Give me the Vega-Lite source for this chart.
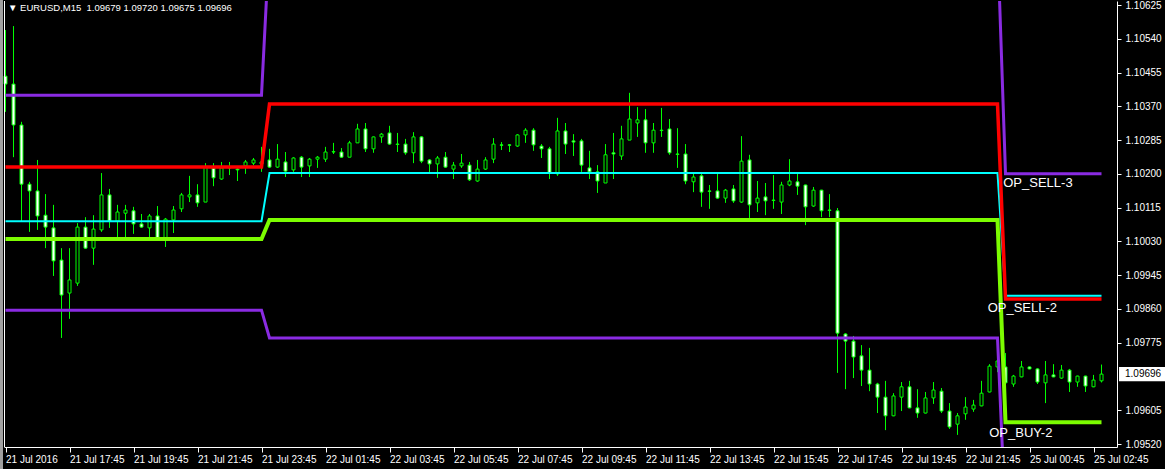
{
  "$schema": "https://vega.github.io/schema/vega-lite/v6.json",
  "width": 1113,
  "height": 446,
  "autosize": {"type": "none"},
  "padding": {"left": 4, "top": 1, "right": 48, "bottom": 22},
  "background": "#000000",
  "config": {
    "view": {"stroke": null},
    "axis": {"grid": false, "domainColor": "#ffffff", "tickColor": "#ffffff", "labelColor": "#ffffff", "labelFont": "Liberation Sans", "labelFontSize": 10, "labelOverlap": false}
  },
  "title": {"text": "▼ EURUSD,M15\u00a0 1.09679 1.09720 1.09675 1.09696", "anchor": "start", "frame": "group", "offset": -13, "dx": 4, "color": "#ffffff", "font": "Liberation Sans", "fontSize": 9.5, "fontWeight": "normal"},
  "datasets": {
    "candles": [
      {"i":0,"open":1.10446,"high":1.10562,"low":1.10356,"close":1.10426},
      {"i":1,"open":1.10426,"high":1.10572,"low":1.10242,"close":1.10323},
      {"i":2,"open":1.10323,"high":1.10331,"low":1.10079,"close":1.10174},
      {"i":3,"open":1.10174,"high":1.10180,"low":1.10054,"close":1.10157},
      {"i":4,"open":1.10157,"high":1.10235,"low":1.10059,"close":1.10094},
      {"i":5,"open":1.10096,"high":1.10149,"low":1.10013,"close":1.10066},
      {"i":6,"open":1.10064,"high":1.10122,"low":1.09943,"close":1.09981},
      {"i":7,"open":1.09983,"high":1.10013,"low":1.09787,"close":1.09895},
      {"i":8,"open":1.09900,"high":1.10013,"low":1.09835,"close":1.09933},
      {"i":9,"open":1.09925,"high":1.10076,"low":1.09918,"close":1.10066},
      {"i":10,"open":1.10066,"high":1.10091,"low":1.10011,"close":1.10013},
      {"i":11,"open":1.10013,"high":1.10096,"low":1.09971,"close":1.10061},
      {"i":12,"open":1.10059,"high":1.10202,"low":1.10054,"close":1.10147},
      {"i":13,"open":1.10147,"high":1.10162,"low":1.10064,"close":1.10081},
      {"i":14,"open":1.10081,"high":1.10122,"low":1.10039,"close":1.10104},
      {"i":15,"open":1.10101,"high":1.10122,"low":1.10039,"close":1.10109},
      {"i":16,"open":1.10107,"high":1.10117,"low":1.10049,"close":1.10074},
      {"i":17,"open":1.10074,"high":1.10099,"low":1.10064,"close":1.10066},
      {"i":18,"open":1.10064,"high":1.10099,"low":1.10039,"close":1.10094},
      {"i":19,"open":1.10094,"high":1.10119,"low":1.10037,"close":1.10039},
      {"i":20,"open":1.10039,"high":1.10089,"low":1.10016,"close":1.10086},
      {"i":21,"open":1.10084,"high":1.10119,"low":1.10051,"close":1.10109},
      {"i":22,"open":1.10112,"high":1.10152,"low":1.10104,"close":1.10147},
      {"i":23,"open":1.10142,"high":1.10195,"low":1.10129,"close":1.10147},
      {"i":24,"open":1.10147,"high":1.10174,"low":1.10117,"close":1.10127},
      {"i":25,"open":1.10129,"high":1.10227,"low":1.10129,"close":1.10217},
      {"i":26,"open":1.10215,"high":1.10227,"low":1.10169,"close":1.10190},
      {"i":27,"open":1.10187,"high":1.10230,"low":1.10185,"close":1.10215},
      {"i":28,"open":1.10217,"high":1.10230,"low":1.10197,"close":1.10215},
      {"i":29,"open":1.10212,"high":1.10215,"low":1.10182,"close":1.10210},
      {"i":30,"open":1.10220,"high":1.10235,"low":1.10200,"close":1.10230},
      {"i":31,"open":1.10227,"high":1.10240,"low":1.10222,"close":1.10235},
      {"i":32,"open":1.10225,"high":1.10268,"low":1.10205,"close":1.10230},
      {"i":33,"open":1.10235,"high":1.10263,"low":1.10215,"close":1.10217},
      {"i":34,"open":1.10217,"high":1.10275,"low":1.10215,"close":1.10237},
      {"i":35,"open":1.10230,"high":1.10255,"low":1.10192,"close":1.10207},
      {"i":36,"open":1.10210,"high":1.10242,"low":1.10205,"close":1.10240},
      {"i":37,"open":1.10242,"high":1.10245,"low":1.10192,"close":1.10217},
      {"i":38,"open":1.10220,"high":1.10240,"low":1.10192,"close":1.10237},
      {"i":39,"open":1.10237,"high":1.10245,"low":1.10215,"close":1.10242},
      {"i":40,"open":1.10237,"high":1.10268,"low":1.10230,"close":1.10255},
      {"i":41,"open":1.10255,"high":1.10278,"low":1.10250,"close":1.10256},
      {"i":42,"open":1.10255,"high":1.10265,"low":1.10240,"close":1.10242},
      {"i":43,"open":1.10242,"high":1.10283,"low":1.10242,"close":1.10278},
      {"i":44,"open":1.10278,"high":1.10326,"low":1.10278,"close":1.10313},
      {"i":45,"open":1.10313,"high":1.10328,"low":1.10255,"close":1.10263},
      {"i":46,"open":1.10263,"high":1.10294,"low":1.10253,"close":1.10293},
      {"i":47,"open":1.10293,"high":1.10303,"low":1.10278,"close":1.10300},
      {"i":48,"open":1.10303,"high":1.10321,"low":1.10273,"close":1.10275},
      {"i":49,"open":1.10275,"high":1.10303,"low":1.10255,"close":1.10274},
      {"i":50,"open":1.10275,"high":1.10288,"low":1.10248,"close":1.10253},
      {"i":51,"open":1.10253,"high":1.10305,"low":1.10227,"close":1.10293},
      {"i":52,"open":1.10293,"high":1.10295,"low":1.10227,"close":1.10232},
      {"i":53,"open":1.10235,"high":1.10237,"low":1.10202,"close":1.10225},
      {"i":54,"open":1.10225,"high":1.10245,"low":1.10190,"close":1.10240},
      {"i":55,"open":1.10242,"high":1.10255,"low":1.10215,"close":1.10217},
      {"i":56,"open":1.10212,"high":1.10230,"low":1.10187,"close":1.10222},
      {"i":57,"open":1.10220,"high":1.10250,"low":1.10215,"close":1.10227},
      {"i":58,"open":1.10222,"high":1.10230,"low":1.10182,"close":1.10185},
      {"i":59,"open":1.10182,"high":1.10235,"low":1.10180,"close":1.10212},
      {"i":60,"open":1.10212,"high":1.10242,"low":1.10210,"close":1.10235},
      {"i":61,"open":1.10237,"high":1.10290,"low":1.10227,"close":1.10275},
      {"i":62,"open":1.10273,"high":1.10280,"low":1.10260,"close":1.10272},
      {"i":63,"open":1.10273,"high":1.10275,"low":1.10255,"close":1.10272},
      {"i":64,"open":1.10270,"high":1.10300,"low":1.10268,"close":1.10298},
      {"i":65,"open":1.10298,"high":1.10315,"low":1.10278,"close":1.10310},
      {"i":66,"open":1.10310,"high":1.10315,"low":1.10258,"close":1.10273},
      {"i":67,"open":1.10270,"high":1.10275,"low":1.10240,"close":1.10263},
      {"i":68,"open":1.10263,"high":1.10268,"low":1.10187,"close":1.10202},
      {"i":69,"open":1.10200,"high":1.10341,"low":1.10195,"close":1.10308},
      {"i":70,"open":1.10308,"high":1.10328,"low":1.10250,"close":1.10275},
      {"i":71,"open":1.10283,"high":1.10300,"low":1.10245,"close":1.10280},
      {"i":72,"open":1.10283,"high":1.10288,"low":1.10205,"close":1.10222},
      {"i":73,"open":1.10215,"high":1.10258,"low":1.10187,"close":1.10205},
      {"i":74,"open":1.10205,"high":1.10222,"low":1.10152,"close":1.10182},
      {"i":75,"open":1.10177,"high":1.10275,"low":1.10177,"close":1.10248},
      {"i":76,"open":1.10253,"high":1.10303,"low":1.10187,"close":1.10250},
      {"i":77,"open":1.10245,"high":1.10321,"low":1.10235,"close":1.10288},
      {"i":78,"open":1.10285,"high":1.10404,"low":1.10285,"close":1.10338},
      {"i":79,"open":1.10328,"high":1.10368,"low":1.10293,"close":1.10336},
      {"i":80,"open":1.10336,"high":1.10363,"low":1.10253,"close":1.10278},
      {"i":81,"open":1.10278,"high":1.10328,"low":1.10253,"close":1.10310},
      {"i":82,"open":1.10310,"high":1.10366,"low":1.10293,"close":1.10309},
      {"i":83,"open":1.10313,"high":1.10338,"low":1.10248,"close":1.10253},
      {"i":84,"open":1.10250,"high":1.10315,"low":1.10215,"close":1.10249},
      {"i":85,"open":1.10250,"high":1.10275,"low":1.10174,"close":1.10182},
      {"i":86,"open":1.10180,"high":1.10202,"low":1.10154,"close":1.10192},
      {"i":87,"open":1.10195,"high":1.10202,"low":1.10117,"close":1.10154},
      {"i":88,"open":1.10157,"high":1.10172,"low":1.10112,"close":1.10156},
      {"i":89,"open":1.10157,"high":1.10202,"low":1.10137,"close":1.10139},
      {"i":90,"open":1.10139,"high":1.10162,"low":1.10127,"close":1.10159},
      {"i":91,"open":1.10162,"high":1.10172,"low":1.10127,"close":1.10132},
      {"i":92,"open":1.10129,"high":1.10295,"low":1.10127,"close":1.10232},
      {"i":93,"open":1.10235,"high":1.10248,"low":1.10089,"close":1.10122},
      {"i":94,"open":1.10127,"high":1.10182,"low":1.10104,"close":1.10139},
      {"i":95,"open":1.10142,"high":1.10177,"low":1.10096,"close":1.10132},
      {"i":96,"open":1.10134,"high":1.10197,"low":1.10112,"close":1.10133},
      {"i":97,"open":1.10129,"high":1.10180,"low":1.10099,"close":1.10172},
      {"i":98,"open":1.10172,"high":1.10237,"low":1.10169,"close":1.10182},
      {"i":99,"open":1.10180,"high":1.10202,"low":1.10147,"close":1.10169},
      {"i":100,"open":1.10172,"high":1.10173,"low":1.10071,"close":1.10117},
      {"i":101,"open":1.10119,"high":1.10167,"low":1.10117,"close":1.10159},
      {"i":102,"open":1.10159,"high":1.10160,"low":1.10091,"close":1.10107},
      {"i":103,"open":1.10109,"high":1.10149,"low":1.10091,"close":1.10108},
      {"i":104,"open":1.10107,"high":1.10114,"low":1.09699,"close":1.09799},
      {"i":105,"open":1.09797,"high":1.09799,"low":1.09658,"close":1.09779},
      {"i":106,"open":1.09779,"high":1.09792,"low":1.09686,"close":1.09739},
      {"i":107,"open":1.09742,"high":1.09769,"low":1.09666,"close":1.09706},
      {"i":108,"open":1.09706,"high":1.09762,"low":1.09653,"close":1.09671},
      {"i":109,"open":1.09671,"high":1.09674,"low":1.09598,"close":1.09638},
      {"i":110,"open":1.09638,"high":1.09679,"low":1.09555,"close":1.09591},
      {"i":111,"open":1.09591,"high":1.09648,"low":1.09590,"close":1.09641},
      {"i":112,"open":1.09638,"high":1.09676,"low":1.09603,"close":1.09664},
      {"i":113,"open":1.09664,"high":1.09679,"low":1.09610,"close":1.09611},
      {"i":114,"open":1.09611,"high":1.09658,"low":1.09586,"close":1.09598},
      {"i":115,"open":1.09598,"high":1.09651,"low":1.09597,"close":1.09636},
      {"i":116,"open":1.09636,"high":1.09676,"low":1.09621,"close":1.09656},
      {"i":117,"open":1.09653,"high":1.09661,"low":1.09598,"close":1.09603},
      {"i":118,"open":1.09603,"high":1.09623,"low":1.09558,"close":1.09563},
      {"i":119,"open":1.09570,"high":1.09598,"low":1.09543,"close":1.09591},
      {"i":120,"open":1.09596,"high":1.09638,"low":1.09581,"close":1.09613},
      {"i":121,"open":1.09608,"high":1.09631,"low":1.09601,"close":1.09618},
      {"i":122,"open":1.09616,"high":1.09679,"low":1.09615,"close":1.09648},
      {"i":123,"open":1.09651,"high":1.09721,"low":1.09650,"close":1.09716},
      {"i":124,"open":1.09714,"high":1.09737,"low":1.09701,"close":1.09729},
      {"i":125,"open":1.09714,"high":1.09749,"low":1.09669,"close":1.09674},
      {"i":126,"open":1.09671,"high":1.09694,"low":1.09664,"close":1.09691},
      {"i":127,"open":1.09689,"high":1.09729,"low":1.09688,"close":1.09714},
      {"i":128,"open":1.09714,"high":1.09715,"low":1.09708,"close":1.09709},
      {"i":129,"open":1.09709,"high":1.09711,"low":1.09671,"close":1.09676},
      {"i":130,"open":1.09674,"high":1.09729,"low":1.09623,"close":1.09694},
      {"i":131,"open":1.09694,"high":1.09721,"low":1.09688,"close":1.09689},
      {"i":132,"open":1.09686,"high":1.09719,"low":1.09684,"close":1.09706},
      {"i":133,"open":1.09706,"high":1.09709,"low":1.09651,"close":1.09676},
      {"i":134,"open":1.09676,"high":1.09692,"low":1.09664,"close":1.09691},
      {"i":135,"open":1.09691,"high":1.09692,"low":1.09651,"close":1.09666},
      {"i":136,"open":1.09664,"high":1.09694,"low":1.09663,"close":1.09681},
      {"i":137,"open":1.09679,"high":1.09720,"low":1.09675,"close":1.09696}
    ],
    "lines": [
      {"s":"PU","i":0,"v":1.10398},{"s":"PU","i":32,"v":1.10398},{"s":"PU","i":33,"v":1.10789},{"s":"PU","i":124,"v":1.10789},{"s":"PU","i":125,"v":1.10200},{"s":"PU","i":137,"v":1.10200},
      {"s":"PL","i":0,"v":1.09857},{"s":"PL","i":32,"v":1.09857},{"s":"PL","i":33,"v":1.09787},{"s":"PL","i":124,"v":1.09787},{"s":"PL","i":125,"v":1.09329},{"s":"PL","i":137,"v":1.09329},
      {"s":"C","i":0,"v":1.10081},{"s":"C","i":32,"v":1.10081},{"s":"C","i":33,"v":1.10202},{"s":"C","i":124,"v":1.10202},{"s":"C","i":125,"v":1.09893},{"s":"C","i":137,"v":1.09893},
      {"s":"R","i":0,"v":1.10217},{"s":"R","i":32,"v":1.10217},{"s":"R","i":33,"v":1.10376},{"s":"R","i":124,"v":1.10376},{"s":"R","i":125,"v":1.09885},{"s":"R","i":137,"v":1.09885},
      {"s":"G","i":0,"v":1.10036},{"s":"G","i":32,"v":1.10036},{"s":"G","i":33,"v":1.10084},{"s":"G","i":124,"v":1.10084},{"s":"G","i":125,"v":1.09575},{"s":"G","i":137,"v":1.09575}
    ],
    "labels": [
      {"i":124.72,"p":1.10167,"text":"OP_SELL-3"},
      {"i":122.77,"p":1.09852,"text":"OP_SELL-2"},
      {"i":122.97,"p":1.09538,"text":"OP_BUY-2"}
    ]
  },
  "layer": [
    {
      "data": {"name": "candles"},
      "mark": {"type": "rule", "color": "#00ff00", "strokeWidth": 1},
      "encoding": {
        "x": {"field": "i", "type": "quantitative", "title": null,
          "scale": {"domain": [-0.1875, 138.9375], "nice": false, "zero": false, "padding": 0},
          "axis": {"orient": "bottom", "values": [0,8,16,24,32,40,48,56,64,72,80,88,96,104,112,120,128,136],
            "labelExpr": "['21 Jul 2016','21 Jul 17:45','21 Jul 19:45','21 Jul 21:45','21 Jul 23:45','22 Jul 01:45','22 Jul 03:45','22 Jul 05:45','22 Jul 07:45','22 Jul 09:45','22 Jul 11:45','22 Jul 13:45','22 Jul 15:45','22 Jul 17:45','22 Jul 19:45','22 Jul 21:45','25 Jul 00:45','25 Jul 02:45'][datum.value/8]",
            "tickCount": 30, "labelAlign": "left", "labelBaseline": "top", "labelPadding": 2, "tickSize": 5, "labelFlush": false, "labelOverlap": false, "labelBound": false}},
        "y": {"field": "low", "type": "quantitative", "title": null,
          "scale": {"domain": [1.095125, 1.106351], "nice": false, "zero": false, "padding": 0},
          "axis": {"orient": "right", "values": [1.0952,1.09605,1.09775,1.0986,1.09945,1.1003,1.10115,1.102,1.10285,1.1037,1.10455,1.1054,1.10625],
            "tickCount": 30, "format": ".5f", "tickSize": 4, "labelPadding": 4, "labelAlign": "left", "labelBaseline": "middle", "labelFlush": false, "labelOverlap": false, "labelBound": false}},
        "y2": {"field": "high"}
      }
    },
    {
      "mark": {"type": "rule", "color": "#778899", "strokeWidth": 1},
      "encoding": {
        "y": {"datum": 1.09696, "type": "quantitative"}
      }
    },
    {
      "data": {"name": "candles"},
      "mark": {"type": "bar", "size": 3, "stroke": "#00ff00", "strokeWidth": 1},
      "encoding": {
        "x": {"field": "i", "type": "quantitative", "title": null},
        "y": {"field": "open", "type": "quantitative", "title": null},
        "y2": {"field": "close"},
        "fill": {"condition": {"test": "datum.close < datum.open", "value": "#ffffff"}, "value": "#000000"}
      }
    },
    {
      "data": {"name": "lines"},
      "transform": [{"filter": "datum.s == 'PU' || datum.s == 'PL'"}],
      "mark": {"type": "line", "color": "#8a2be2", "strokeWidth": 3, "clip": true},
      "encoding": {
        "x": {"field": "i", "type": "quantitative", "title": null},
        "y": {"field": "v", "type": "quantitative", "title": null},
        "detail": {"field": "s"}
      }
    },
    {
      "data": {"name": "lines"},
      "transform": [{"filter": "datum.s == 'C'"}],
      "mark": {"type": "line", "color": "#00ffff", "strokeWidth": 2, "clip": true},
      "encoding": {
        "x": {"field": "i", "type": "quantitative", "title": null},
        "y": {"field": "v", "type": "quantitative", "title": null}
      }
    },
    {
      "data": {"name": "lines"},
      "transform": [{"filter": "datum.s == 'R'"}],
      "mark": {"type": "line", "color": "#ff0000", "strokeWidth": 3.5, "clip": true},
      "encoding": {
        "x": {"field": "i", "type": "quantitative", "title": null},
        "y": {"field": "v", "type": "quantitative", "title": null}
      }
    },
    {
      "data": {"name": "lines"},
      "transform": [{"filter": "datum.s == 'G'"}],
      "mark": {"type": "line", "color": "#7cfc00", "strokeWidth": 4, "clip": true},
      "encoding": {
        "x": {"field": "i", "type": "quantitative", "title": null},
        "y": {"field": "v", "type": "quantitative", "title": null}
      }
    },
    {
      "data": {"name": "labels"},
      "mark": {"type": "text", "color": "#ffffff", "font": "Liberation Sans", "fontSize": 13, "align": "left", "baseline": "alphabetic"},
      "encoding": {
        "x": {"field": "i", "type": "quantitative", "title": null},
        "y": {"field": "p", "type": "quantitative", "title": null},
        "text": {"field": "text"}
      }
    },
    {
      "data": {"values": [{"a": 1}]},
      "mark": {"type": "rect", "fill": "#a0a0a0", "clip": false},
      "encoding": {
        "x": {"datum": -0.6875, "type": "quantitative"},
        "x2": {"datum": -0.3125},
        "y": {"datum": 1.10640, "type": "quantitative"},
        "y2": {"datum": 1.09457}
      }
    },
    {
      "data": {"values": [{"a": 1}]},
      "mark": {"type": "rule", "color": "#ffffff", "strokeWidth": 1, "clip": false},
      "encoding": {
        "x": {"datum": -0.125, "type": "quantitative"}
      }
    },
    {
      "data": {"values": [{"a": 1}]},
      "mark": {"type": "rect", "fill": "#ffffff", "clip": false},
      "encoding": {
        "x": {"datum": 139.19, "type": "quantitative"},
        "x2": {"datum": 144.94},
        "y": {"datum": 1.09714, "type": "quantitative"},
        "y2": {"datum": 1.09678}
      }
    },
    {
      "data": {"values": [{"a": 1}]},
      "mark": {"type": "text", "color": "#000000", "font": "Liberation Sans", "fontSize": 10, "align": "left", "baseline": "middle", "clip": false},
      "encoding": {
        "x": {"datum": 139.94, "type": "quantitative"},
        "y": {"datum": 1.09696, "type": "quantitative"},
        "text": {"value": "1.09696"}
      }
    }
  ]
}
